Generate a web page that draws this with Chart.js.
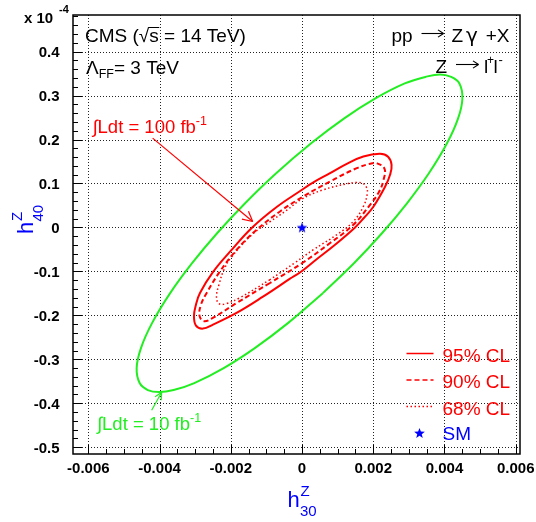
<!DOCTYPE html>
<html><head><meta charset="utf-8">
<script src="https://cdn.jsdelivr.net/npm/chart.js@4.4.1/dist/chart.umd.min.js"></script>
<style>html,body{margin:0;padding:0;background:#fff;}canvas{display:block;}</style>
</head><body>
<canvas id="c" width="536" height="522"></canvas>
<script>
// ---------- data ----------
const xTicks = [-0.006,-0.004,-0.002,0,0.002,0.004,0.006];
const xTickLabels = ['-0.006','-0.004','-0.002','0','0.002','0.004','0.006'];
const yTicks = [-0.5,-0.4,-0.3,-0.2,-0.1,0,0.1,0.2,0.3,0.4];
const yTickLabels = ['-0.5','-0.4','-0.3','-0.2','-0.1','0','0.1','0.2','0.3','0.4'];
const xRange = [-0.00643, 0.00612];
const yRange = [-0.5155, 0.4834];

// 10 fb-1 contour (green)
const lumi10X = [0.000584,-0.000396,-0.001326,-0.002199,-0.003025,-0.003604,-0.004017,-0.004329,-0.004559,-0.004643,-0.004522,-0.004211,-0.003702,-0.003087,-0.002385,-0.001598,-0.000725,0.000256,0.001185,0.002059,0.002885,0.003463,0.003876,0.004188,0.004419,0.004503,0.004382,0.004070,0.003562,0.002947,0.002244,0.001458];
const lumi10Y = [-0.1495,-0.2177,-0.2745,-0.3200,-0.3541,-0.3700,-0.3745,-0.3700,-0.3541,-0.3200,-0.2745,-0.2177,-0.1495,-0.0814,-0.0132,0.0550,0.1232,0.1914,0.2482,0.2936,0.3277,0.3425,0.3482,0.3425,0.3277,0.2936,0.2482,0.1914,0.1232,0.0550,-0.0132,-0.0814];

// 100 fb-1, 95% CL (solid red)
const cl95X = [-0.000337,-0.001096,-0.001826,-0.002500,-0.002781,-0.002978,-0.003034,-0.002978,-0.002865,-0.002492,-0.002022,-0.001405,-0.000702,0.000000,0.000272,0.000787,0.001256,0.001722,0.002191,0.002416,0.002514,0.002472,0.002331,0.002003,0.001742,0.001489,0.000927,0.000393,-0.000028];
const cl95Y = [-0.1166,-0.1575,-0.1939,-0.2211,-0.2302,-0.2234,-0.2023,-0.1757,-0.1491,-0.1007,-0.0552,-0.0007,0.0470,0.0857,0.1005,0.1236,0.1448,0.1614,0.1675,0.1607,0.1425,0.1198,0.0925,0.0470,0.0220,0.0000,-0.0393,-0.0734,-0.1007];

// 100 fb-1, 90% CL (dashed red)
const cl90X = [-0.000899,-0.001834,-0.002492,-0.002753,-0.002879,-0.002837,-0.002677,-0.002303,-0.001834,-0.001272,-0.000618,0.000037,0.000787,0.001537,0.001910,0.002107,0.002317,0.002289,0.002163,0.001910,0.001441,0.000787,0.000008];
const cl90Y = [-0.1264,-0.1718,-0.2052,-0.2132,-0.2007,-0.1757,-0.1491,-0.1000,-0.0507,-0.0052,0.0364,0.0705,0.1045,0.1350,0.1448,0.1459,0.1334,0.1084,0.0811,0.0516,0.0061,-0.0355,-0.0809];

// 100 fb-1, 68% CL (dotted red)
const cl68X = [-0.000899,-0.001742,-0.002135,-0.002331,-0.002402,-0.002331,-0.002191,-0.001975,-0.001376,-0.000899,-0.000430,-0.000008,0.000598,0.001256,0.001517,0.001685,0.001798,0.001834,0.001722,0.001441,0.000975,0.000317,-0.000197];
const cl68Y = [-0.1189,-0.1598,-0.1734,-0.1734,-0.1575,-0.1302,-0.0961,-0.0666,-0.0143,0.0130,0.0391,0.0645,0.0857,0.0993,0.1023,0.1009,0.0932,0.0782,0.0477,0.0136,-0.0166,-0.0507,-0.0802];

// Standard Model point
const smX = [0];
const smY = [0];

// annotation arrows (data coordinates): [tailX, tailY, tipX, tipY]
const arrow100 = [-0.004194, 0.2032, -0.001385, 0.0136];
const arrow10  = [-0.004222, -0.4159, -0.003941, -0.3750];

// ---------- drawing ----------
const FONT = '"Liberation Sans", Arial, Helvetica, sans-serif';
const RED = '#ff0000', GREEN = '#22ee22', BLUE = '#0000ff';

function drawStar(g, cx, cy, R, color){
  const r = R*0.42; g.beginPath();
  for (let i=0;i<10;i++){
    const a = -Math.PI/2 + i*Math.PI/5, rr = (i%2)? r : R;
    g.lineTo(cx+rr*Math.cos(a), cy+rr*Math.sin(a));
  }
  g.closePath(); g.fillStyle = color; g.fill();
}
const starImg = document.createElement('canvas');
starImg.width = 12; starImg.height = 12;
drawStar(starImg.getContext('2d'), 6, 6.4, 5.6, BLUE);

function closed(xs, ys){
  const p = xs.map((v,i)=>({x:v, y:ys[i]}));
  p.push({x:xs[0], y:ys[0]});
  return p;
}
function line(ctx,x1,y1,x2,y2){ctx.beginPath();ctx.moveTo(x1,y1);ctx.lineTo(x2,y2);ctx.stroke();}
function arrowHead(ctx, x1,y1,x2,y2,len,ang){
  const a=Math.atan2(y1-y2,x1-x2);
  line(ctx,x2,y2,x2+len*Math.cos(a+ang),y2+len*Math.sin(a+ang));
  line(ctx,x2,y2,x2+len*Math.cos(a-ang),y2+len*Math.sin(a-ang));
}
function runsWidth(ctx, runs){
  let w=0; runs.forEach(r=>{ctx.font=(r.bold?'bold ':'')+r.size+'px '+(r.fam||FONT); w+=ctx.measureText(r.t).width*(r.sx||1);}); return w;
}
function drawRuns(ctx, x, y, runs, color, align){
  if (align==='right') x -= runsWidth(ctx, runs);
  ctx.fillStyle = color; ctx.textAlign='left'; ctx.textBaseline='alphabetic';
  const pos=[];
  runs.forEach(r=>{
    ctx.font=(r.bold?'bold ':'')+r.size+'px '+(r.fam||FONT);
    const xx = (r.x!==undefined)? r.x : x;
    const sx = r.sx||1;
    ctx.save(); ctx.translate(xx, y+(r.dy||0)); ctx.scale(sx,1);
    ctx.fillText(r.t, 0, 0); ctx.restore();
    const w=ctx.measureText(r.t).width*sx; pos.push([xx,w]); x=xx+w;
  });
  return pos;
}
function textArrow(ctx, x1, x2, y, color){
  ctx.save(); ctx.strokeStyle=color; ctx.lineWidth=1.1; ctx.setLineDash([]);
  line(ctx,x1,y,x2,y);
  line(ctx,x2,y,x2-5.5,y-3.6); line(ctx,x2,y,x2-5.5,y+3.6);
  ctx.restore();
}

const deco = {
  id:'deco',
  beforeDatasetsDraw(chart){
    const {ctx, chartArea:a, scales:{x,y}} = chart;
    ctx.save();
    ctx.strokeStyle='#222'; ctx.lineWidth=1; ctx.setLineDash([1,2]);
    xTicks.forEach(v=>{const p=Math.round(x.getPixelForValue(v))+0.5; line(ctx,p,a.top,p,a.bottom);});
    yTicks.forEach(v=>{const p=Math.round(y.getPixelForValue(v))+0.5; line(ctx,a.left,p,a.right,p);});
    ctx.restore();
  },
  afterDatasetsDraw(chart){
    const {ctx, chartArea:a, scales:{x,y}} = chart;
    ctx.save();
    // frame
    ctx.strokeStyle='#000'; ctx.lineWidth=1.5; ctx.setLineDash([]);
    ctx.strokeRect(a.left, a.top, a.right-a.left, a.bottom-a.top);
    // ticks
    ctx.lineWidth=1;
    for (let v=-0.0065; v<=0.0065; v+=0.0005){
      const vv=Math.round(v*1e4)/1e4; if (vv<xRange[0]||vv>xRange[1]) continue;
      const major = xTicks.some(t=>Math.abs(t-vv)<1e-9);
      const p=Math.round(x.getPixelForValue(vv))+0.5;
      line(ctx,p,a.bottom,p,a.bottom-(major?9:5));
    }
    for (let v=-0.52; v<=0.49; v+=0.02){
      const vv=Math.round(v*100)/100; if (vv<yRange[0]||vv>yRange[1]) continue;
      const major = yTicks.some(t=>Math.abs(t-vv)<1e-9);
      const p=Math.round(y.getPixelForValue(vv))+0.5;
      line(ctx,a.left,p,a.left+(major?9:5),p);
    }
    // tick labels
    ctx.fillStyle='#000'; ctx.font='bold 15px '+FONT;
    ctx.textAlign='center'; ctx.textBaseline='alphabetic';
    xTicks.forEach((v,i)=>ctx.fillText(xTickLabels[i], x.getPixelForValue(v), a.bottom+18.5));
    ctx.textAlign='right';
    yTicks.forEach((v,i)=>ctx.fillText(yTickLabels[i], a.left-13.5, y.getPixelForValue(v)+5.5));
    // exponent
    drawRuns(ctx, 24, 23, [{t:'x 10',size:15,bold:true}], '#000');
    drawRuns(ctx, 59, 12.5, [{t:'-4',size:11,bold:true}], '#000');
    // axis titles
    drawRuns(ctx, 287.5, 506.5, [{t:'h',size:22}], BLUE);
    drawRuns(ctx, 300.5, 495.5, [{t:'Z',size:15}], BLUE);
    drawRuns(ctx, 300, 516, [{t:'30',size:15}], BLUE);
    ctx.save(); ctx.translate(33.3, 234); ctx.rotate(-Math.PI/2);
    drawRuns(ctx, 0, 0, [{t:'h',size:22}], BLUE);
    drawRuns(ctx, 13, -11, [{t:'Z',size:15}], BLUE);
    drawRuns(ctx, 12.5, 9.5, [{t:'40',size:15}], BLUE);
    ctx.restore();
    // header texts
    const pos = drawRuns(ctx, 85, 41.5, [{t:'CMS (',size:19},{t:'\u221A',size:19},{t:'s',size:19},{t:' = 14 TeV)',size:19}], '#000');
    ctx.strokeStyle='#000'; ctx.lineWidth=1;
    line(ctx, pos[1][0]+pos[1][1]-1, 27.5, pos[2][0]+pos[2][1]+0.5, 27.5);
    drawRuns(ctx, 86, 74, [{t:'\u039B',size:19},{t:'FF',size:12.5,dy:4},{t:'= 3 TeV',size:19}], '#000');
    // pp -> Z gamma + X
    drawRuns(ctx, 391.5, 41.5, [{t:'pp',size:19}], '#000');
    textArrow(ctx, 421.5, 443.5, 33.5, '#000');
    drawRuns(ctx, 451.5, 41.5, [{t:'Z',size:19},{t:'\u03B3',size:20,x:466,fam:'"DejaVu Sans", sans-serif'}], '#000');
    drawRuns(ctx, 509.5, 41.5, [{t:'+X',size:19}], '#000', 'right');
    // Z -> l+ l-
    drawRuns(ctx, 435.5, 72.5, [{t:'Z',size:19}], '#000');
    textArrow(ctx, 456, 478.5, 64.5, '#000');
    drawRuns(ctx, 484, 72.5, [{t:'l',size:19},{t:'+',size:12,dy:-9,x:487},{t:'l',size:19,x:493.5},{t:'-',size:13,dy:-9,x:498.5}], '#000');
    // luminosity labels
    drawRuns(ctx, 92.5, 133, [{t:'\u222BLdt = 100 fb',size:18.5},{t:'-1',size:12.5,dy:-8}], RED);
    drawRuns(ctx, 97, 430, [{t:'\u222BLdt = 10 fb',size:18.5},{t:'-1',size:12.5,dy:-8}], GREEN);
    // arrows
    ctx.lineWidth=1.2; ctx.strokeStyle=RED;
    let t=[x.getPixelForValue(arrow100[0]),y.getPixelForValue(arrow100[1]),x.getPixelForValue(arrow100[2]),y.getPixelForValue(arrow100[3])];
    line(ctx,t[0],t[1],t[2],t[3]); arrowHead(ctx,t[0],t[1],t[2],t[3],11,0.48);
    ctx.strokeStyle=GREEN;
    t=[x.getPixelForValue(arrow10[0]),y.getPixelForValue(arrow10[1]),x.getPixelForValue(arrow10[2]),y.getPixelForValue(arrow10[3])];
    line(ctx,t[0],t[1],t[2],t[3]); arrowHead(ctx,t[0],t[1],t[2],t[3],8,0.45);
    // legend
    const ds = chart.data.datasets;
    const legendRows = [[1,353.5,361.5,'95% CL'],[2,380,388,'90% CL'],[3,406.5,414.5,'68% CL']];
    legendRows.forEach(r=>{
      const d=ds[r[0]];
      ctx.strokeStyle=d.borderColor; ctx.lineWidth=Math.min(d.borderWidth,1.5); ctx.setLineDash(d.borderDash||[]);
      line(ctx,406.5,r[1],433.5,r[1]);
      ctx.setLineDash([]);
      drawRuns(ctx, 442.5, r[2], [{t:r[3],size:19}], RED);
    });
    drawStar(ctx, 419.5, 433.5, 5.6, BLUE);
    drawRuns(ctx, 442.5, 440, [{t:'SM',size:19}], BLUE);
    ctx.restore();
  }
};

new Chart(document.getElementById('c'), {
  type:'scatter',
  data:{ datasets:[
    {label:'10 fb-1', data:closed(lumi10X,lumi10Y), showLine:true, borderColor:GREEN, borderWidth:2, pointRadius:0, tension:0.4, fill:false},
    {label:'95% CL', data:closed(cl95X,cl95Y), showLine:true, borderColor:RED, borderWidth:2, pointRadius:0, tension:0.4, fill:false},
    {label:'90% CL', data:closed(cl90X,cl90Y), showLine:true, borderColor:RED, borderWidth:2, borderDash:[5,3], pointRadius:0, tension:0.4, fill:false},
    {label:'68% CL', data:closed(cl68X,cl68Y), showLine:true, borderColor:RED, borderWidth:1.5, borderDash:[1.5,2.5], pointRadius:0, tension:0.4, fill:false},
    {label:'SM', data:smX.map((v,i)=>({x:v,y:smY[i]})), showLine:false, pointStyle:starImg, pointRadius:6, borderColor:BLUE, backgroundColor:BLUE}
  ]},
  options:{
    responsive:false, animation:false, devicePixelRatio:1,
    layout:{padding:{left:73, right:16, top:15, bottom:68}},
    scales:{
      x:{type:'linear', min:xRange[0], max:xRange[1], display:false},
      y:{type:'linear', min:yRange[0], max:yRange[1], display:false}
    },
    plugins:{legend:{display:false}, tooltip:{enabled:false}}
  },
  plugins:[deco]
});
</script>
</body></html>
